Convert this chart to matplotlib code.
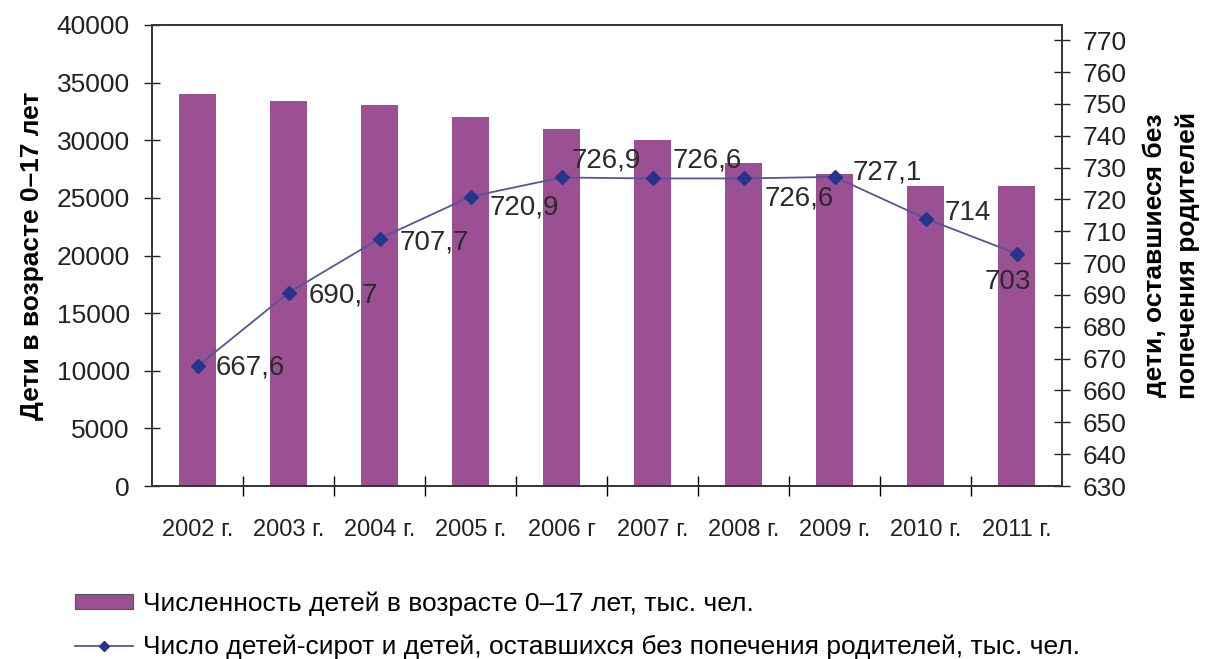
import matplotlib
matplotlib.use("Agg")
import matplotlib.pyplot as plt
from matplotlib.lines import Line2D
from matplotlib.patches import Patch
import numpy as np

years = ["2002 г.", "2003 г.", "2004 г.", "2005 г.", "2006 г", "2007 г.",
         "2008 г.", "2009 г.", "2010 г.", "2011 г."]
children = [34000, 33400, 33100, 32000, 31000, 30000, 28000, 27100, 26000, 26000]
orphans = [667.6, 690.7, 707.7, 720.9, 726.9, 726.6, 726.6, 727.1, 714, 703]
orphan_labels = ["667,6", "690,7", "707,7", "720,9", "726,9", "726,6",
                 "726,6", "727,1", "714", "703"]
label_offsets = [(18, -1), (20, -3), (20, -4), (19, -11), (10, 17), (20, 18),
                 (21, -20), (18, 4), (19, 6), (-9, -28)]
label_ha = ["left"] * 9 + ["center"]

plt.rcParams['font.family'] = ['Liberation Sans', 'DejaVu Sans']

W, H = 1210, 659
fig = plt.figure(figsize=(W / 100, H / 100), dpi=100)
ax = fig.add_axes([152 / W, 1 - 486 / H, (1062 - 152) / W, (486 - 25) / H])
x = np.arange(len(years))

bar_color = '#9b5093'
ax.bar(x, children, width=0.41, color=bar_color, zorder=2)
ax.set_xlim(-0.5, len(years) - 0.5)
ax.set_ylim(0, 40000)
ax.set_yticks(np.arange(0, 40001, 5000))
ax.tick_params(axis='y', direction='inout', length=12, width=1, labelsize=19,
               colors='#222222', pad=10)
ax.set_xticks(np.arange(0.5, len(years) - 1, 1))
ax.set_xticklabels([])
ax.set_xticks(x, minor=True)
ax.set_xticklabels(years, minor=True, fontsize=17)
ax.tick_params(axis='x', which='major', direction='inout', length=14, width=1)
ax.tick_params(axis='x', which='minor', length=0, pad=24, colors='#222222')
for s in ax.spines.values():
    s.set_color('#333333')
    s.set_linewidth(1.2)
ax.set_ylabel("Дети в возрасте 0–17 лет", fontsize=19, fontweight='bold',
              labelpad=9)

ax2 = ax.twinx()
ax2.set_ylim(630, 774.8)
ax2.set_yticks(np.arange(630, 771, 10))
ax2.tick_params(axis='y', direction='inout', length=12, width=1, labelsize=19,
                colors='#222222', pad=9)
ax2.plot(x, orphans, color='#55559a', lw=1.3, marker='D', markersize=7,
         markerfacecolor='#26348c', markeredgecolor='#26348c', zorder=3)
for xi, v, lab, off, ha in zip(x, orphans, orphan_labels, label_offsets, label_ha):
    ax2.annotate(lab, (xi, v), xytext=off, textcoords='offset pixels',
                 ha=ha, va='center', fontsize=20, color='#2a2a2a')
ax2.set_ylabel("дети, оставшиеся без\nпопечения родителей", fontsize=19,
               fontweight='bold', labelpad=11, linespacing=1.45)
for s in ax2.spines.values():
    s.set_color('#333333')
    s.set_linewidth(1.2)

handles = [Patch(facecolor=bar_color, edgecolor='#555555', lw=0.8),
           Line2D([0], [0], color='#55559a', lw=1.3, marker='D', markersize=5,
                  markerfacecolor='#26348c', markeredgecolor='#26348c')]
labels = ["Численность детей в возрасте 0–17 лет, тыс. чел.",
          "Число детей-сирот и детей, оставшихся без попечения родителей, тыс. чел."]
fig.legend(handles, labels, loc='upper left',
           bbox_to_anchor=(75 / W, 1 - 591 / H), frameon=False,
           prop={'size': 19}, handlelength=2.2, borderpad=0,
           handleheight=0.5, labelspacing=0.72, handletextpad=0.38,
           borderaxespad=0, numpoints=1)

fig.savefig("out.png", dpi=100)
